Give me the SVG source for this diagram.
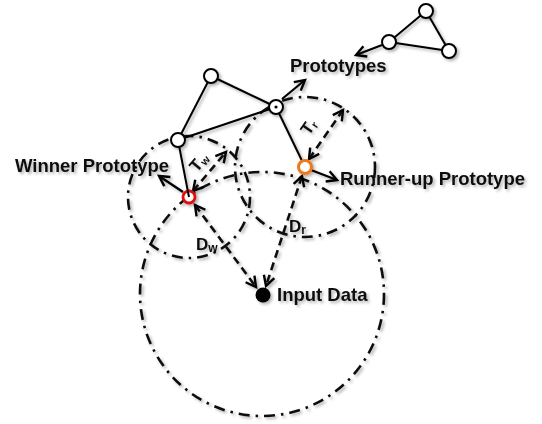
<svg xmlns="http://www.w3.org/2000/svg" width="542" height="424" viewBox="0 0 542 424">
  <defs>
    <style>
      .edge { stroke: #000; stroke-width: 2; fill: none; }
      .ring { stroke: #111; stroke-width: 2.6; fill: none; stroke-dasharray: 11 6 2.5 6; }
      .dist { stroke: #111; stroke-width: 2.6; fill: none; stroke-dasharray: 8 5; marker-start: url(#open); marker-end: url(#open); }
      .ptr { stroke: #000; stroke-width: 2.2; fill: none; marker-end: url(#open); }
      .node { fill: #fff; stroke: #000; stroke-width: 2; }
      .label { font-family: "Liberation Sans", Arial, sans-serif; font-weight: bold; font-size: 18.5px; fill: #111; }
      .sym { font-family: "Liberation Sans", Arial, sans-serif; font-weight: bold; font-size: 17px; fill: #111; }
    </style>
    <marker id="open" markerUnits="userSpaceOnUse" markerWidth="16" markerHeight="16" viewBox="-13 -8 16 16" refX="0" refY="0" orient="auto-start-reverse">
      <path d="M-10,-5.5 L0,0 L-10,5.5" fill="none" stroke="#000" stroke-width="2.4" stroke-dasharray="none"/>
    </marker>
    <filter id="soft" x="-10%" y="-10%" width="120%" height="120%">
      <feDropShadow dx="2" dy="2" stdDeviation="1.6" flood-color="#000" flood-opacity="0.3"/>
    </filter>
  </defs>

  <rect width="542" height="424" fill="#fff"/>

  <g filter="url(#soft)">
    <!-- threshold regions and distance circle -->
    <g id="regions">
      <circle class="ring" cx="262" cy="294" r="122"/>
      <circle class="ring" cx="189" cy="197" r="61"/>
      <circle class="ring" cx="305" cy="167" r="70"/>
    </g>

    <!-- connectors -->
    <g id="connectors">
      <line class="edge" x1="211" y1="76" x2="276" y2="107"/>
      <line class="edge" x1="211" y1="76" x2="178" y2="140"/>
      <line class="edge" x1="178" y1="140" x2="276" y2="107"/>
      <line class="edge" x1="276" y1="107" x2="305" y2="167"/>
      <line class="edge" x1="426" y1="11" x2="389" y2="42"/>
      <line class="edge" x1="389" y1="42" x2="449" y2="51"/>
      <line class="edge" x1="426" y1="11" x2="449" y2="51"/>

      <line class="ptr" x1="282" y1="99" x2="305" y2="80"/>
      <line class="ptr" x1="382" y1="45" x2="356" y2="55"/>
      <line class="ptr" x1="183" y1="192" x2="159" y2="176"/>
      <line class="ptr" x1="311" y1="170" x2="337" y2="180"/>

      <line class="dist" x1="193" y1="191" x2="226" y2="152"/>
      <line class="dist" x1="309" y1="159" x2="343" y2="110"/>
      <line class="dist" x1="195" y1="205" x2="256" y2="287"/>
      <line class="dist" x1="302" y1="176" x2="266" y2="286"/>
    </g>

    <!-- prototypes -->
    <g id="node-a"><circle class="node" cx="211" cy="76" r="7"/></g>
    <g id="node-b">
      <circle class="node" cx="276" cy="107" r="7"/>
      <circle cx="276" cy="107" r="1.6" fill="#000"/>
    </g>
    <g id="node-c"><circle class="node" cx="178" cy="140" r="7"/></g>
    <g id="winner">
      <circle cx="189" cy="197" r="6" fill="#fff" stroke="#e01010" stroke-width="2.8"/>
      <line class="edge" x1="179.3" y1="147" x2="189" y2="197"/>
    </g>
    <g id="runner-up">
      <circle cx="305" cy="167" r="6.5" fill="#fff" stroke="#f07818" stroke-width="3"/>
    </g>
    <g id="input"><circle cx="263" cy="295" r="7.5" fill="#000"/></g>
    <g id="node-t1"><circle class="node" cx="426" cy="11" r="7"/></g>
    <g id="node-t2"><circle class="node" cx="389" cy="42" r="7"/></g>
    <g id="node-t3"><circle class="node" cx="449" cy="51" r="7"/></g>

    <!-- labels -->
    <g id="labels">
      <text class="label" x="290" y="72">Prototypes</text>
      <text class="label" x="15" y="172">Winner Prototype</text>
      <text class="label" x="340" y="185">Runner-up Prototype</text>
      <text class="label" x="277" y="301">Input Data</text>
      <text class="sym" x="196" y="250">D<tspan font-size="12" dy="2">w</tspan></text>
      <text class="sym" x="289" y="232">D<tspan font-size="12" dy="2">r</tspan></text>
      <text class="sym" font-size="15" transform="translate(197,173) rotate(-50)">T<tspan font-size="11" dy="2">w</tspan></text>
      <text class="sym" font-size="15" transform="translate(309,136) rotate(-55)">T<tspan font-size="11" dy="2">r</tspan></text>
    </g>
  </g>
</svg>
